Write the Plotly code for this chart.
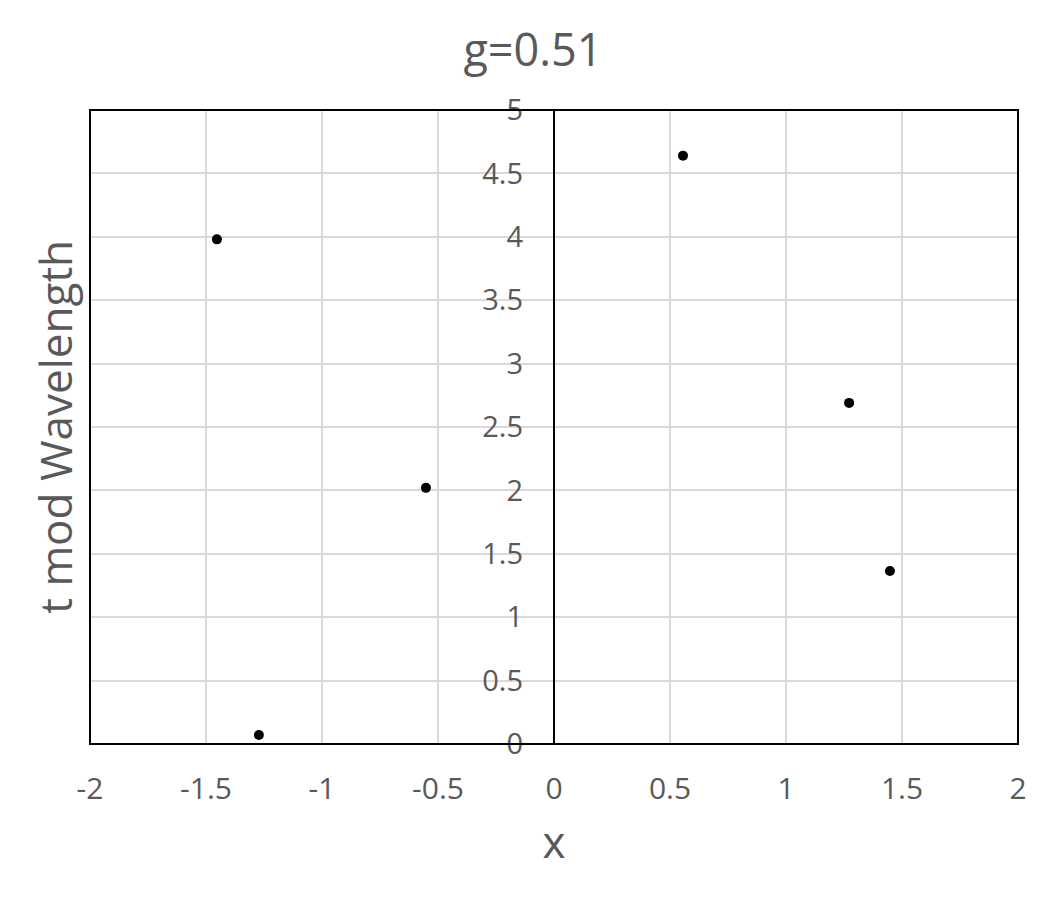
import plotly.graph_objects as go

x_vals = [-1.453, -1.272, -0.552, 0.556, 1.272, 1.448]
y_vals = [3.98, 0.071, 2.02, 4.64, 2.69, 1.364]
title_text = "g=0.51"
x_title = "x"
y_title = "t mod Wavelength"
x_ticks = [-2, -1.5, -1, -0.5, 0, 0.5, 1, 1.5, 2]
y_ticks = [0, 0.5, 1, 1.5, 2, 2.5, 3, 3.5, 4, 4.5, 5]

FONT = "Open Sans"
GREY = "#595959"

fig = go.Figure()
fig.add_trace(go.Scatter(
    x=x_vals, y=y_vals, mode="markers",
    marker=dict(color="black", size=10),
    showlegend=False,
))

fig.update_layout(
    width=1050, height=900,
    margin=dict(l=82, r=40, t=102, b=164),
    paper_bgcolor="white", plot_bgcolor="white",
    font=dict(family=FONT, color=GREY),
    title=dict(text=title_text, x=0.5, xanchor="center", y=1 - 42/900, yanchor="middle",
               font=dict(size=45, color=GREY, family=FONT)),
    xaxis=dict(
        range=[-2, 2], tickvals=x_ticks, ticktext=[str(v) for v in x_ticks],
        showgrid=True, gridcolor="#d9d9d9", gridwidth=2,
        zeroline=True, zerolinecolor="black", zerolinewidth=2,
        showline=False, ticks="", tickfont=dict(size=30, color=GREY),
        ticklabelstandoff=24,
        title=dict(text=x_title, font=dict(size=44, color=GREY), standoff=20),
        fixedrange=True,
    ),
    yaxis=dict(
        range=[0, 5], tickvals=y_ticks, ticktext=[str(v) for v in y_ticks],
        anchor="free", position=0.5,
        showgrid=True, gridcolor="#d9d9d9", gridwidth=2,
        zeroline=False, showline=False, ticks="",
        tickfont=dict(size=29, color=GREY), ticklabelstandoff=31,
        fixedrange=True,
    ),
    shapes=[dict(type="rect", xref="paper", yref="paper", x0=0, x1=1, y0=0, y1=1,
                 line=dict(color="black", width=2), fillcolor="rgba(0,0,0,0)", layer="above")],
    annotations=[dict(text=y_title, xref="paper", yref="paper", x=-0.038, y=0.5,
                      xanchor="center", yanchor="middle", textangle=-90, showarrow=False,
                      font=dict(size=44, color=GREY, family=FONT))],
)

fig.write_html("out.html")
